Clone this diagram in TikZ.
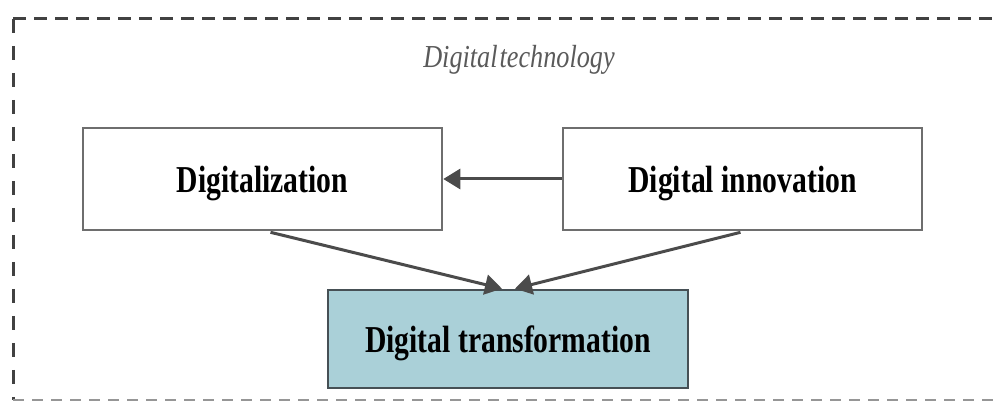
\documentclass[tikz,border=0pt]{standalone}
\usepackage{fontspec}
\setmainfont{Liberation Serif}
\newfontfamily\boxfont[FakeStretch=0.78]{Liberation Serif}
\newfontfamily\capfont[FakeStretch=0.82]{Liberation Serif}
\usetikzlibrary{arrows.meta,calc}
\definecolor{framegray}{RGB}{65,65,65}
\definecolor{boxgray}{RGB}{110,110,110}
\definecolor{arrowgray}{RGB}{75,75,75}
\definecolor{transfill}{RGB}{170,208,216}
\definecolor{transedge}{RGB}{70,80,85}
\definecolor{labelgray}{RGB}{90,90,90}
\tikzset{
  stagebox/.style={draw=boxgray, line width=2.6pt, fill=white, minimum width=359pt,
    minimum height=102pt, inner sep=0pt, text depth=0pt,
    font=\boxfont\bfseries\fontsize{38}{40}\selectfont},
  mainbox/.style={stagebox, draw=transedge, fill=transfill, minimum width=360pt, minimum height=98pt},
  flow/.style={draw=arrowgray, line width=3pt, -{Triangle[length=17pt,width=20pt]}},
  frameline/.style={draw=framegray, line width=3pt}
}
\begin{document}
\begin{tikzpicture}[x=1pt,y=-1pt]
\useasboundingbox (0,0) rectangle (997,403);
% dashed enclosing frame (open on the right)
\coordinate (ftl) at (13,19);
\coordinate (ftr) at (1005,19);
\coordinate (fbl) at (13,400);
\coordinate (fbr) at (1005,400);
\draw[frameline, dash pattern=on 13pt off 8pt] (ftl) -- (ftr);
\draw[frameline, dash pattern=on 14pt off 13pt] (ftl) -- (fbl);
\draw[frameline, draw=framegray!55, line width=2.5pt, dash pattern=on 11pt off 8pt] (fbl) -- (fbr);
% heading
\node[text=labelgray, inner sep=0pt, anchor=base,
  font=\capfont\itshape\fontsize{32}{34}\selectfont] (tech) at (519,68)
  {Digital\hspace{2pt}technology};
% stages
\node[stagebox] (dz) at (262.5,179) {Digitalization};
\node[stagebox] (di) at (742.5,179) {Digital innovation};
\node[mainbox] (dt) at (508,339) {Digital transformation};
% connectors
\draw[flow] (di.west) -- (dz.east);
\draw[flow] ($(dz.south)+(8,1)$) -- ($(dt.north)+(-6,0)$);
\draw[flow] ($(di.south)+(-2,1)$) -- ($(dt.north)+(7,0)$);
\end{tikzpicture}
\end{document}
